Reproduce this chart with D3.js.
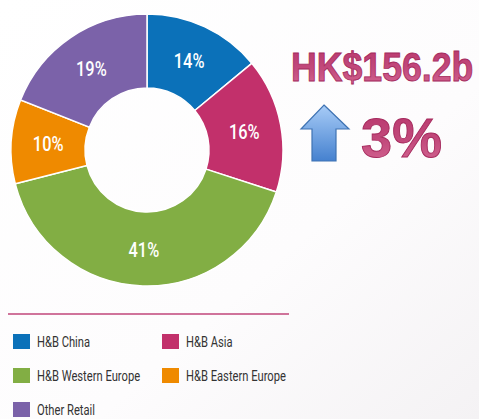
<!doctype html>
<html>
<head>
<meta charset="utf-8" />
<script src="https://d3js.org/d3.v7.min.js"></script>
<style>
  body{ margin:0; background:#fff; }
  svg{ display:block; }
</style>
</head>
<body>
</body>
<script>
// segment data, clockwise from 12 o'clock
var categories = ["H&B China", "H&B Asia", "H&B Western Europe", "H&B Eastern Europe", "Other Retail"];
var values = [14, 16, 41, 10, 19];
var colors = ["#0b71b9", "#c2306b", "#82ae44", "#ef8a00", "#7b62a9"];
var headline = "HK$156.2b";
var growth = "3%";

var svg = d3.select("body").append("svg").attr("width", 479).attr("height", 419);

var defs = svg.append("defs");
var bg = defs.append("linearGradient").attr("id", "bg")
    .attr("x1", 0).attr("y1", 0).attr("x2", 1).attr("y2", 1);
bg.append("stop").attr("offset", "0%").attr("stop-color", "#ffffff");
bg.append("stop").attr("offset", "60%").attr("stop-color", "#fdfcfd");
bg.append("stop").attr("offset", "100%").attr("stop-color", "#f4f2f4");

var arrowGrad = defs.append("linearGradient").attr("id", "arrowGrad")
    .attr("x1", 0).attr("y1", 0).attr("x2", 0).attr("y2", 1);
arrowGrad.append("stop").attr("offset", "0%").attr("stop-color", "#a8ccf7");
arrowGrad.append("stop").attr("offset", "100%").attr("stop-color", "#4581cf");

var textGrad = defs.append("linearGradient").attr("id", "textGrad")
    .attr("x1", 0).attr("y1", 0).attr("x2", 0).attr("y2", 1);
textGrad.append("stop").attr("offset", "0%").attr("stop-color", "#b8356b");
textGrad.append("stop").attr("offset", "55%").attr("stop-color", "#c24a7c");
textGrad.append("stop").attr("offset", "100%").attr("stop-color", "#d66a95");

svg.append("rect").attr("width", 479).attr("height", 419).attr("fill", "url(#bg)");

// donut
var pie = d3.pie().sort(null).value(d => d);
var arc = d3.arc().innerRadius(62).outerRadius(136);
var labelArc = d3.arc().innerRadius(99).outerRadius(99);

var g = svg.append("g").attr("transform", "translate(147,150)");

g.selectAll("path.slice")
    .data(pie(values))
    .enter()
    .append("path")
    .attr("class", "slice")
    .attr("d", arc)
    .attr("fill", (d, i) => colors[i])
    .attr("stroke", "#fff")
    .attr("stroke-width", 1.5);

g.selectAll("text.pct")
    .data(pie(values))
    .enter()
    .append("text")
    .attr("class", "pct")
    .attr("transform", d => "translate(" + labelArc.centroid(d) + ") scale(0.78,1)")
    .attr("text-anchor", "middle")
    .attr("dy", "0.36em")
    .attr("fill", "#fff")
    .style("font-family", "Roboto, 'DejaVu Sans', sans-serif")
    .style("font-weight", 500)
    .style("font-size", "21px")
    .text(d => d.data + "%");

// headline figures
svg.append("text")
    .attr("transform", "translate(291,81) scale(0.87,1)")
    .attr("fill", "url(#textGrad)")
    .attr("stroke", "#a52a5d").attr("stroke-width", 0.9)
    .style("font-family", "'Liberation Sans', Arial, sans-serif")
    .style("font-weight", "bold")
    .style("font-size", "41px")
    .text(headline);

svg.append("text")
    .attr("x", 361).attr("y", 157)
    .attr("fill", "url(#textGrad)")
    .attr("stroke", "#a52a5d").attr("stroke-width", 0.9)
    .style("font-family", "'Liberation Sans', Arial, sans-serif")
    .style("font-weight", "bold")
    .style("font-size", "56px")
    .text(growth);

// up arrow
svg.append("path")
    .attr("d", "M324,105 L349,129 L336,129 L336,161 L312,161 L312,129 L301,129 Z")
    .attr("fill", "url(#arrowGrad)")
    .attr("stroke", "#3f73b3")
    .attr("stroke-width", 1.2);

// divider line
svg.append("line")
    .attr("x1", 8).attr("x2", 289).attr("y1", 314).attr("y2", 314)
    .attr("stroke", "#c0467a").attr("stroke-width", 1.5);

// legend
var legend = svg.selectAll("g.legend")
    .data(categories)
    .enter()
    .append("g")
    .attr("class", "legend")
    .attr("transform", (d, i) => "translate(" + (i % 2 ? 162 : 13) + "," + (334 + Math.floor(i / 2) * 34) + ")");

legend.append("rect")
    .attr("width", 17).attr("height", 15)
    .attr("fill", (d, i) => colors[i]);

legend.append("text")
    .attr("transform", "translate(24,13) scale(0.8,1)")
    .attr("fill", "#333")
    .style("font-family", "Roboto, 'DejaVu Sans', sans-serif")
    .style("font-size", "14px")
    .text(d => d);
</script>
</html>
